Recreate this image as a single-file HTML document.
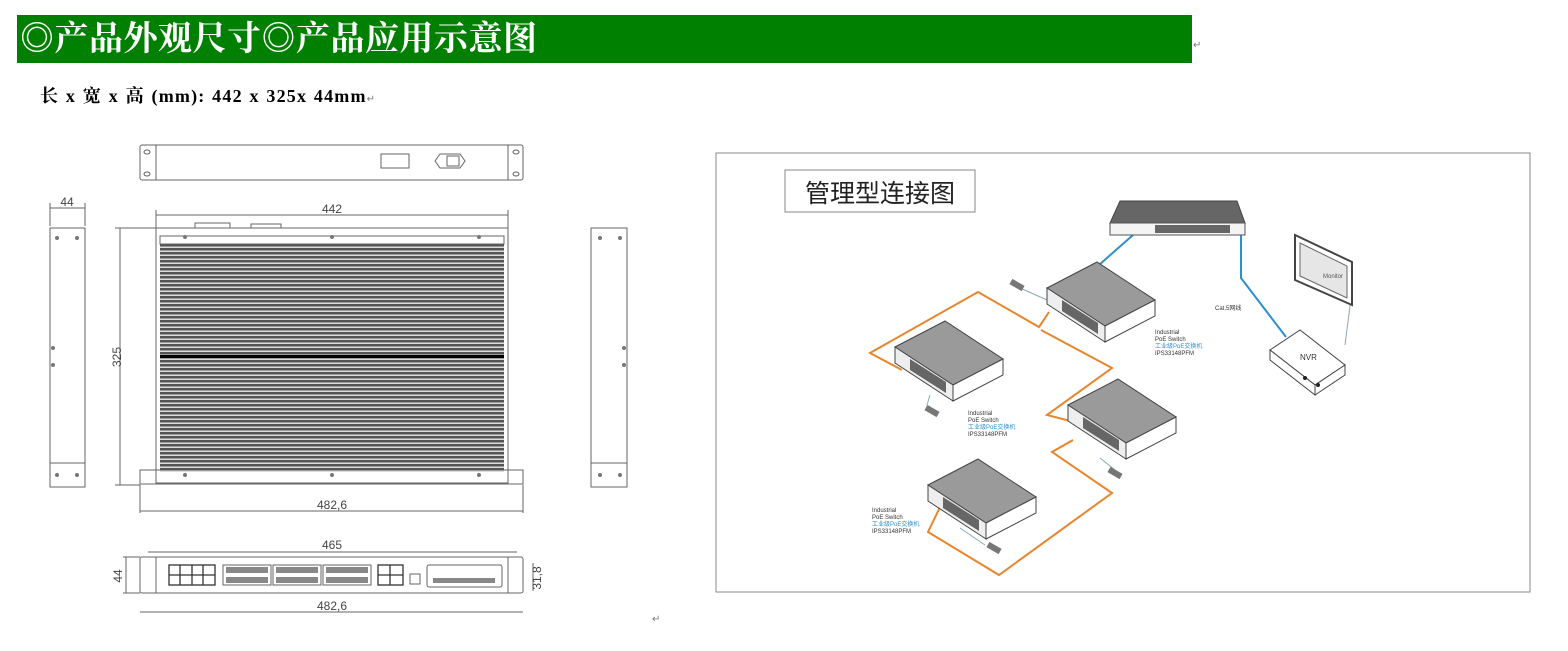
<!DOCTYPE html>
<html><head><meta charset="utf-8"><style>
body{margin:0;width:1568px;height:651px;background:#fff;position:relative;overflow:hidden;font-family:"Liberation Serif","Noto Serif CJK SC",serif}
.hdr{position:absolute;left:17px;top:15px;width:1175px;height:48px;background:#008000;color:#fff;font-size:34px;line-height:50px;padding-left:3px;box-sizing:border-box;font-family:"Liberation Serif","Noto Serif CJK SC",serif;font-weight:bold;letter-spacing:0.5px}
.sub{position:absolute;left:40px;top:82px;font-size:18px;color:#000;font-weight:bold;letter-spacing:1.2px;word-spacing:1px}
svg{position:absolute;left:0;top:0}
</style></head><body>
<div class="hdr">◎产品外观尺寸◎产品应用示意图</div>
<div style="position:absolute;left:1193px;top:40px;font-size:10px;color:#777">↵</div>
<div class="sub">长 x 宽 x 高 (mm): 442 x 325x 44mm<span style="font-size:10px;color:#777;font-weight:normal">↵</span></div>
<div style="position:absolute;left:652px;top:614px;font-size:10px;color:#777">↵</div>
<svg width="1568" height="651" viewBox="0 0 1568 651" font-family="Liberation Sans, sans-serif">
<defs>
<pattern id="fins" width="4" height="4" patternUnits="userSpaceOnUse"><rect width="4" height="4" fill="#ddd"/><rect width="4" height="2.5" fill="#555"/></pattern>
</defs>
<g stroke="#666" fill="none" stroke-width="1">
<rect x="140" y="145" width="383" height="35" rx="2"/>
<line x1="156" y1="145" x2="156" y2="180"/><line x1="508" y1="145" x2="508" y2="180"/>
<ellipse cx="147" cy="152" rx="3" ry="2"/><ellipse cx="147" cy="174" rx="3" ry="2"/>
<ellipse cx="516" cy="152" rx="3" ry="2"/><ellipse cx="516" cy="174" rx="3" ry="2"/>
<rect x="381" y="154" width="28" height="14"/>
<path d="M435 161 l5 -7 h20 l5 7 l-5 7 h-20z"/><rect x="447" y="156" width="12" height="10"/>
<rect x="50" y="228" width="35" height="259"/><line x1="50" y1="463" x2="85" y2="463"/>
<line x1="50" y1="208" x2="85" y2="208"/><line x1="50" y1="203" x2="50" y2="226"/><line x1="85" y1="203" x2="85" y2="226"/>
<rect x="591" y="228" width="36" height="259"/><line x1="591" y1="463" x2="627" y2="463"/>
<rect x="156" y="228" width="352" height="255"/>
<rect x="140" y="470" width="383" height="14"/>
<line x1="156" y1="215" x2="508" y2="215"/><line x1="156" y1="210" x2="156" y2="228"/><line x1="508" y1="210" x2="508" y2="228"/>
<line x1="120" y1="228" x2="120" y2="485"/><line x1="115" y1="228" x2="156" y2="228"/><line x1="115" y1="485" x2="140" y2="485"/>
<line x1="140" y1="511" x2="523" y2="511"/><line x1="140" y1="485" x2="140" y2="513"/><line x1="523" y1="485" x2="523" y2="513"/>
<rect x="195" y="223" width="35" height="5"/><rect x="251" y="224" width="30" height="4"/>
<rect x="140" y="557" width="383" height="36" rx="2"/>
<line x1="156" y1="557" x2="156" y2="593"/><line x1="508" y1="557" x2="508" y2="593"/>
<line x1="148" y1="552" x2="517" y2="552"/>
<line x1="140" y1="612" x2="523" y2="612"/>
<line x1="126" y1="557" x2="126" y2="593"/><line x1="123" y1="557" x2="140" y2="557"/><line x1="123" y1="593" x2="140" y2="593"/>
<line x1="533" y1="563" x2="533" y2="591"/>
<rect x="427" y="565" width="75" height="22" rx="2"/>
<rect x="410" y="574" width="10" height="10"/>
</g>
<rect x="160" y="244" width="344" height="228" fill="url(#fins)"/>
<rect x="160" y="355" width="344" height="3" fill="#000"/>
<rect x="160" y="236" width="344" height="8" fill="#fff" stroke="#666"/>
<g fill="#777"><circle cx="185" cy="237" r="2"/><circle cx="332" cy="237" r="2"/><circle cx="479" cy="237" r="2"/>
<circle cx="185" cy="475" r="2"/><circle cx="332" cy="475" r="2"/><circle cx="479" cy="475" r="2"/>
<circle cx="57" cy="238" r="2"/><circle cx="77" cy="238" r="2"/><circle cx="53" cy="348" r="2"/><circle cx="53" cy="365" r="2"/><circle cx="57" cy="475" r="2"/><circle cx="77" cy="475" r="2"/>
<circle cx="600" cy="238" r="2"/><circle cx="620" cy="238" r="2"/><circle cx="624" cy="348" r="2"/><circle cx="624" cy="365" r="2"/><circle cx="600" cy="475" r="2"/><circle cx="620" cy="475" r="2"/></g>
<g fill="none" stroke="#333" stroke-width="1.3">
<rect x="169" y="565" width="46" height="20"/><line x1="169" y1="575" x2="215" y2="575"/><line x1="180" y1="565" x2="180" y2="585"/><line x1="192" y1="565" x2="192" y2="585"/><line x1="203" y1="565" x2="203" y2="585"/>
<rect x="378" y="565" width="25" height="20"/><line x1="378" y1="575" x2="403" y2="575"/><line x1="390" y1="565" x2="390" y2="585"/>
</g>
<g fill="none" stroke="#666">
<rect x="223" y="565" width="48" height="20"/><rect x="273" y="565" width="48" height="20"/><rect x="323" y="565" width="48" height="20"/>
</g>
<g fill="#888"><rect x="226" y="567" width="42" height="6"/><rect x="226" y="577" width="42" height="6"/><rect x="276" y="567" width="42" height="6"/><rect x="276" y="577" width="42" height="6"/><rect x="326" y="567" width="42" height="6"/><rect x="326" y="577" width="42" height="6"/><rect x="433" y="578" width="62" height="5"/></g>
<g font-size="12" fill="#444" text-anchor="middle">
<text x="67" y="206">44</text><text x="332" y="213">442</text><text x="332" y="509">482,6</text>
<text x="332" y="549">465</text><text x="332" y="610">482,6</text>
<text transform="translate(121,357) rotate(-90)">325</text>
<text transform="translate(122,576) rotate(-90)">44</text>
<text transform="translate(541,578) rotate(-90)">31,8</text>
</g>

<rect x="716" y="153" width="814" height="439" fill="none" stroke="#888"/>
<rect x="785" y="170" width="190" height="42" fill="#fff" stroke="#888"/>
<text x="880" y="202" font-size="25" text-anchor="middle" fill="#222" font-family="Noto Sans CJK SC, sans-serif">管理型连接图</text>
<g fill="none" stroke="#e8852c" stroke-width="2">
<polyline points="902,370 870,353 978,292 1039,327 1049,312"/>
<polyline points="1041,330 1112,368 1047,415 1078,423"/>
<polyline points="1073,440 1052,452 1112,493 999,575 928,532 942,503"/>
</g>
<g fill="none" stroke="#2f8fcc" stroke-width="2">
<polyline points="1133,235 1099,265"/>
<polyline points="1241,235 1241,278 1286,337"/>
</g>
<g fill="none" stroke="#8ab" stroke-width="1">
<polyline points="1352,290 1345,345"/>
<polyline points="1020,288 1047,300"/>
<polyline points="930,395 927,405"/>
<polyline points="1100,458 1115,470"/>
<polyline points="960,528 985,545"/>
</g>
<polygon points="1120,201 1237,201 1245,223 1110,223" fill="#666" stroke="#444"/>
<rect x="1110" y="223" width="135" height="12" fill="#f4f4f4" stroke="#555"/>
<rect x="1155" y="225" width="75" height="8" fill="#666"/>
<polygon points="1295,235 1352,262 1352,305 1295,280" fill="#fff" stroke="#444" stroke-width="2"/>
<polygon points="1300,243 1347,266 1347,298 1300,276" fill="#e6e6e6" stroke="#666"/>
<text x="1323" y="278" font-size="6" fill="#555">Monitor</text>
<polygon points="1270,350 1300,330 1345,365 1315,385" fill="#fff" stroke="#444"/>
<polygon points="1270,350 1315,385 1315,395 1270,360" fill="#fff" stroke="#444"/>
<polygon points="1315,385 1345,365 1345,375 1315,395" fill="#fff" stroke="#444"/>
<circle cx="1305" cy="378" r="2" fill="#222"/><circle cx="1318" cy="385" r="2" fill="#222"/>
<text x="1300" y="360" font-size="8" fill="#333">NVR</text>
<g id="sw">
<polygon points="1047,288 1097,262 1155,300 1105,326" fill="#9a9a9a" stroke="#444"/>
<polygon points="1047,288 1105,326 1105,342 1047,304" fill="#eee" stroke="#444"/>
<polygon points="1105,326 1155,300 1155,316 1105,342" fill="#fff" stroke="#444"/>
<polygon points="1062,300 1098,323 1098,334 1062,311" fill="#666"/>
</g>
<use href="#sw" transform="translate(-152,59)"/>
<use href="#sw" transform="translate(21,117)"/>
<use href="#sw" transform="translate(-119,197)"/>
<g fill="#777">
<rect x="1010" y="282" width="14" height="6" transform="rotate(30 1017 285)"/>
<rect x="925" y="408" width="14" height="6" transform="rotate(30 932 411)"/>
<rect x="1108" y="470" width="14" height="6" transform="rotate(30 1115 473)"/>
<rect x="987" y="545" width="14" height="6" transform="rotate(30 994 548)"/>
</g>
<g font-size="6" fill="#333">
<text x="1155" y="334">Industrial</text><text x="1155" y="341">PoE Switch</text><text x="1155" y="348" fill="#2f8fcc">工业级PoE交换机</text><text x="1155" y="355">IPS33148PFM</text>
<text x="968" y="415">Industrial</text><text x="968" y="422">PoE Switch</text><text x="968" y="429" fill="#2f8fcc">工业级PoE交换机</text><text x="968" y="436">IPS33148PFM</text>
<text x="872" y="512">Industrial</text><text x="872" y="519">PoE Switch</text><text x="872" y="526" fill="#2f8fcc">工业级PoE交换机</text><text x="872" y="533">IPS33148PFM</text>
<text x="1215" y="310">Cat.5网线</text>
</g>
</svg>
</body></html>
